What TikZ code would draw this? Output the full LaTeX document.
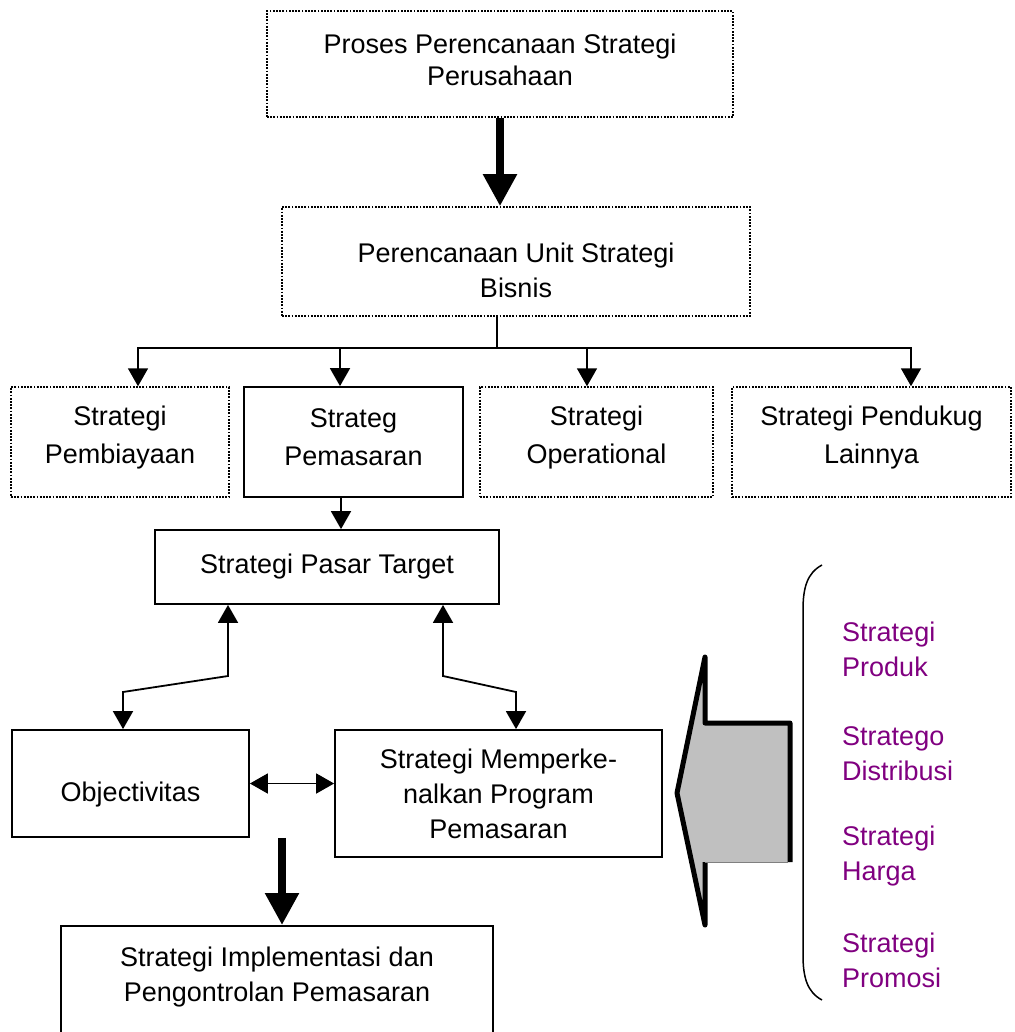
\documentclass[tikz,border=0pt]{standalone}
\usepackage{fontspec}
\setmainfont{Liberation Sans}
\usetikzlibrary{arrows.meta}
\definecolor{silverfill}{HTML}{C0C0C0}
\definecolor{textpurple}{HTML}{800080}
\newcommand\myfs[1]{\fontsize{27}{#1}\selectfont}
\begin{document}
\begin{tikzpicture}[x=1pt,y=-1pt,
  dotbox/.style={draw, line width=1.5pt, dash pattern=on 1.8pt off 1.4pt, inner sep=0pt, align=center},
  solbox/.style={draw, line width=1.8pt, inner sep=0pt, align=center},
  txt/.style={inner sep=0pt, align=center},
  con/.style={line width=1.8pt},
  arr/.style={con, -{Triangle[length=18pt,width=20pt]}},
  darr/.style={con, {Triangle[length=18pt,width=20pt]}-{Triangle[length=18pt,width=20pt]}},
  bigarr/.style={line width=8pt, -{Triangle[length=32pt,width=32pt]}},
  side/.style={anchor=west, align=left, inner sep=0pt, text=textpurple, font=\myfs{35}}
]
\useasboundingbox (0,0) rectangle (1014,1032);
\clip (0,0) rectangle (1014,1032);

% boxes
\node[dotbox, minimum width=466pt, minimum height=106pt] (top) at (500,64) {};
\node[txt, font=\myfs{32}] (topt) at (500,59.5) {Proses Perencanaan Strategi\\Perusahaan};
\node[dotbox, minimum width=468pt, minimum height=109pt] (mid) at (516,261.5) {};
\node[txt, font=\myfs{35}] (midt) at (516,270.5) {Perencanaan Unit Strategi\\Bisnis};
\node[dotbox, minimum width=218pt, minimum height=110pt] (b1) at (120,442) {};
\node[txt, font=\myfs{38}] (b1t) at (120,437.5) {Strategi\\Pembiayaan};
\node[solbox, minimum width=219pt, minimum height=110pt] (b2) at (353.5,442) {};
\node[txt, font=\myfs{38}] (b2t) at (353.5,437.5) {Strateg\\Pemasaran};
\node[dotbox, minimum width=233pt, minimum height=110pt] (b3) at (596.5,442) {};
\node[txt, font=\myfs{38}] (b3t) at (596.5,437.5) {Strategi\\Operational};
\node[dotbox, minimum width=279pt, minimum height=110pt] (b4) at (871.5,442) {};
\node[txt, font=\myfs{38}] (b4t) at (871.5,437.5) {Strategi Pendukug\\Lainnya};
\node[solbox, minimum width=344pt, minimum height=74pt, font=\myfs{35}] (tgt) at (327,567) {Strategi Pasar Target};
\node[solbox, minimum width=237pt, minimum height=107pt] (obj) at (130.5,783.5) {};
\node[txt, font=\myfs{35}] (objt) at (130.5,795) {Objectivitas};
\node[solbox, minimum width=327pt, minimum height=127pt, font=\myfs{35}] (mem) at (498.5,793.5) {Strategi Memperke-\\nalkan Program\\Pemasaran};
\node[solbox, minimum width=432pt, minimum height=110pt] (bot) at (277,981) {};
\node[txt, font=\myfs{35}] (bott) at (277,977) {Strategi Implementasi dan\\Pengontrolan Pemasaran};

% purple list
\node[side] (p1) at (842,649.5) {Strategi\\Produk};
\node[side] (p2) at (842,753.5) {Stratego\\Distribusi};
\node[side] (p3) at (842,856.5) {Strategi\\Harga};
\node[side] (p4) at (842,960) {Strategi\\Promosi};

% connectors
\draw[bigarr] (top.south) -- (top.south |- mid.north);
\coordinate (hl) at (497,348);
\coordinate (a1) at (138,348);
\coordinate (a2) at (340,348);
\coordinate (a3) at (587,348);
\coordinate (a4) at (911,348);
\draw[con] (hl |- mid.south) -- (hl);
\draw[darr] (a1 |- b1.north) -- (a1) -- (a4) -- (a4 |- b4.north);
\draw[arr] (a2) -- (a2 |- b2.north);
\draw[arr] (a3) -- (a3 |- b3.north);

\coordinate (pc) at (341,0);
\draw[arr] (pc |- b2.south) -- (pc |- tgt.north);

\coordinate (l1) at (228,676);
\coordinate (l2) at (123,692);
\draw[darr] (l1 |- tgt.south) -- (l1) -- (l2) -- (l2 |- obj.north);
\coordinate (r1) at (443,676);
\coordinate (r2) at (516,692);
\draw[darr] (r1 |- tgt.south) -- (r1) -- (r2) -- (r2 |- mem.north);
\draw[darr] (obj.east) -- (obj.east -| mem.west);

\coordinate (ta) at (282,0);
\draw[bigarr] (ta |- obj.south) -- (ta |- bot.north);

% block arrow
\fill[silverfill] (677,793) -- (705,657) -- (705,723) -- (790,723) -- (790,862) -- (705,862) -- (705,925) -- cycle;
\draw[line width=5pt, line join=round] (790,862) -- (790,723) -- (705,723) -- (705,657) -- (677,793) -- (705,925) -- (705,862);
\draw[line width=1pt, gray] (705,862) -- (788,862);

% bracket
\draw[line width=1.5pt] (822,565) .. controls (807,573) and (803,588) .. (803,610) -- (803,955) .. controls (803,977) and (807,992) .. (822,1000);
\end{tikzpicture}
\end{document}
